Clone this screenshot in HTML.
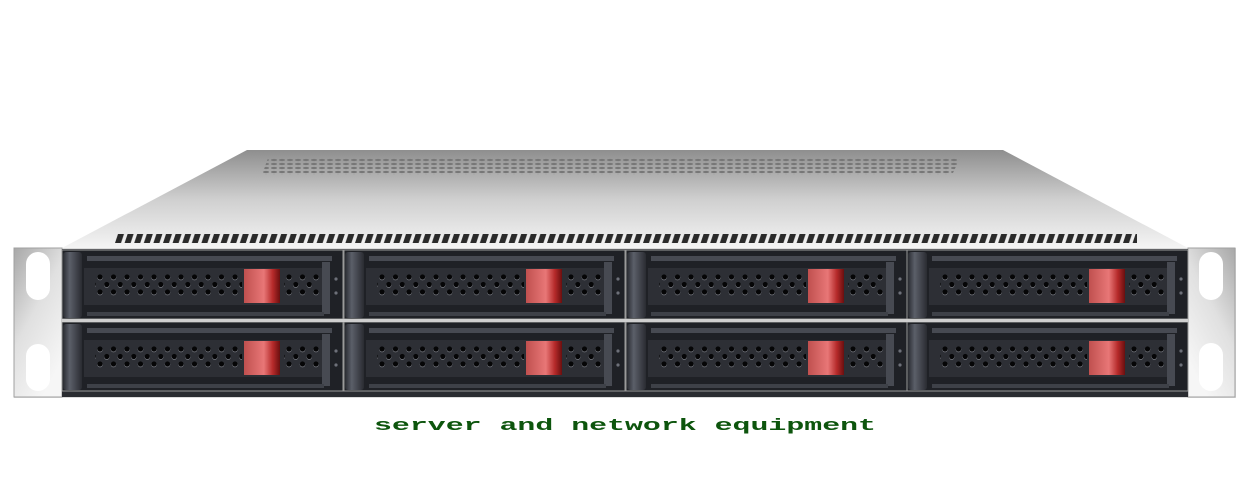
<!DOCTYPE html>
<html><head><meta charset="utf-8"><style>
html,body{margin:0;padding:0;background:#fff;width:1250px;height:500px;overflow:hidden}
</style></head><body>
<svg width="1250" height="500" viewBox="0 0 1250 500" xmlns="http://www.w3.org/2000/svg">
<defs>
<linearGradient id="top" x1="0" y1="0" x2="0" y2="1">
<stop offset="0" stop-color="#8e8e8e"/><stop offset="0.5" stop-color="#cfcfcf"/><stop offset="1" stop-color="#f4f4f4"/>
</linearGradient>
<linearGradient id="ear" x1="0" y1="0" x2="0.6" y2="1">
<stop offset="0" stop-color="#a8a8a8"/><stop offset="0.5" stop-color="#e0e0e0"/><stop offset="1" stop-color="#f6f6f6"/>
</linearGradient>
<linearGradient id="earR" x1="1" y1="0" x2="0.4" y2="1">
<stop offset="0" stop-color="#a8a8a8"/><stop offset="0.5" stop-color="#e0e0e0"/><stop offset="1" stop-color="#f6f6f6"/>
</linearGradient>
<linearGradient id="red" x1="0" y1="0" x2="1" y2="0">
<stop offset="0" stop-color="#c0504f"/><stop offset="0.55" stop-color="#e87777"/><stop offset="0.8" stop-color="#b52a2a"/><stop offset="1" stop-color="#6a0f0f"/>
</linearGradient>
<linearGradient id="handle" x1="0" y1="0" x2="1" y2="0">
<stop offset="0" stop-color="#2a2c32"/><stop offset="0.35" stop-color="#5b5f69"/><stop offset="1" stop-color="#2a2c32"/>
</linearGradient>
<pattern id="holes" patternUnits="userSpaceOnUse" x="35" y="24" width="13.5" height="15">
<circle cx="3" cy="3.6" r="2.7" fill="#8a8d95"/>
<circle cx="3" cy="3" r="2.6" fill="#050506"/>
<circle cx="9.75" cy="11.1" r="2.7" fill="#8a8d95"/>
<circle cx="9.75" cy="10.5" r="2.6" fill="#050506"/>
</pattern>
<pattern id="slat" patternUnits="userSpaceOnUse" x="115" y="234" width="9.6" height="10">
<polygon points="3,0 9,0 6,9 0,9" fill="#2a2a2a"/>
</pattern>
<pattern id="vent" patternUnits="userSpaceOnUse" x="262" y="158" width="8" height="4">
<ellipse cx="4" cy="2" rx="3.2" ry="1.1" fill="#777"/>
</pattern>
<g id="bay">
<rect x="0" y="0" width="281" height="69" fill="#1f2126"/>
<rect x="0" y="0" width="281" height="69" fill="none" stroke="#9a9a9a" stroke-width="1"/>
<rect x="1" y="2" width="19" height="66" rx="3" fill="url(#handle)"/>
<rect x="25" y="6" width="245" height="5" fill="#474a52"/>
<rect x="22" y="18" width="240" height="37" fill="#2d2f35"/>
<rect x="33" y="23" width="147" height="23" fill="url(#holes)"/>
<rect x="222" y="23" width="36" height="23" fill="url(#holes)"/>
<rect x="182" y="19" width="36" height="34" fill="url(#red)"/>
<rect x="260" y="12" width="8" height="52" fill="#474a52"/>
<rect x="25" y="62" width="237" height="4" fill="#3e4148"/>
<circle cx="274" cy="29" r="1.6" fill="#6d7079"/>
<circle cx="274" cy="43" r="1.6" fill="#6d7079"/>
</g>
</defs>
<polygon points="247,150 1003,150 1188,248 62,248" fill="url(#top)"/>
<polygon points="268,158 960,158 952,175 262,175" fill="url(#vent)"/>
<rect x="115" y="234" width="1022" height="9" fill="url(#slat)"/>
<rect x="14" y="248" width="1222" height="150" fill="#dcdcdc"/>
<rect x="14" y="248" width="48" height="149" fill="url(#ear)" stroke="#a0a0a0"/>
<rect x="1188" y="248" width="47" height="149" fill="url(#earR)" stroke="#a0a0a0"/>
<rect x="26" y="252" width="24" height="48" rx="12" fill="#fff"/>
<rect x="26" y="344" width="24" height="47" rx="12" fill="#fff"/>
<rect x="1199" y="252" width="24" height="48" rx="12" fill="#fff"/>
<rect x="1199" y="343" width="24" height="48" rx="12" fill="#fff"/>
<rect x="62" y="249" width="1126" height="148" fill="#2a2c31"/>
<use href="#bay" x="62" y="250"/>
<use href="#bay" x="344" y="250"/>
<use href="#bay" x="626" y="250"/>
<use href="#bay" x="907" y="250"/>
<use href="#bay" x="62" y="322"/>
<use href="#bay" x="344" y="322"/>
<use href="#bay" x="626" y="322"/>
<use href="#bay" x="907" y="322"/>
<rect x="62" y="319" width="1126" height="3" fill="#cfcfcf"/>
<text x="374" y="430" textLength="502" lengthAdjust="spacingAndGlyphs" font-family="Liberation Mono, monospace" font-size="17" font-weight="bold" fill="#0d550d">server and network equipment</text>
</svg>
</body></html>
